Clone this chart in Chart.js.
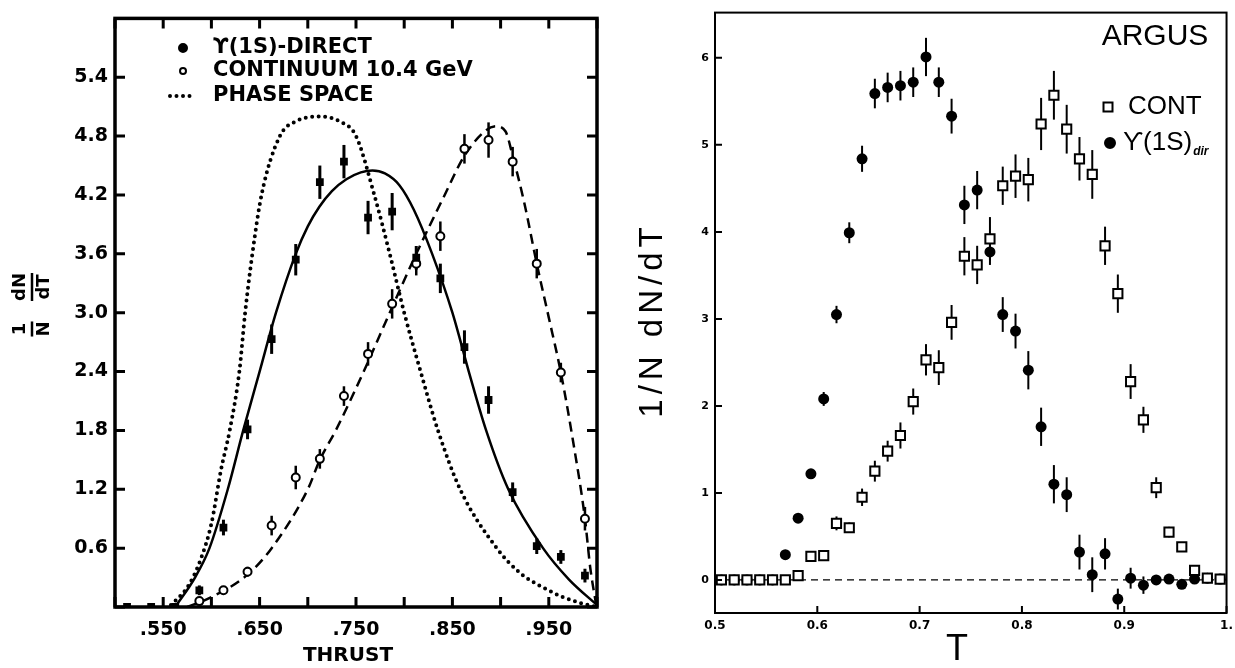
<!DOCTYPE html>
<html>
<head>
<meta charset="utf-8">
<script src="https://cdn.jsdelivr.net/npm/chart.js"></script>
<style>
	html, body { margin: 0; padding: 0; background: #fff; }
	#wrap { position: relative; width: 1235px; height: 668px; overflow: hidden; }
	canvas { position: absolute; top: 0; }
	#thrust { left: 0; }
	#argus { left: 620px; }
</style>
</head>
<body>
<div id="wrap">
	<canvas id="thrust" width="620" height="668"></canvas>
	<canvas id="argus" width="619" height="668"></canvas>
</div>
<script>
// ---- left panel: thrust, Y(1S) direct vs continuum 10.4 GeV ----
var thrustBins = [0.5125, 0.5375, 0.5625, 0.5875, 0.6125, 0.6375, 0.6625, 0.6875, 0.7125, 0.7375,
	0.7625, 0.7875, 0.8125, 0.8375, 0.8625, 0.8875, 0.9125, 0.9375, 0.9625, 0.9875];
var directVals = [0, 0, 0, 0.17, 0.81, 1.81, 2.73, 3.54, 4.33, 4.54, 3.97, 4.03, 3.56, 3.35, 2.65, 2.11, 1.17, 0.62, 0.51, 0.32];
var directErr = [0, 0, 0, 0.05, 0.08, 0.10, 0.15, 0.16, 0.17, 0.17, 0.17, 0.19, 0.12, 0.15, 0.17, 0.14, 0.10, 0.08, 0.07, 0.07];
var contVals = [null, null, null, 0.06, 0.17, 0.36, 0.83, 1.32, 1.51, 2.15, 2.58, 3.09, 3.50, 3.78, 4.67, 4.76, 4.54, 3.50, 2.39, 0.90];
var contErr = [0, 0, 0, 0.03, 0.04, 0.05, 0.10, 0.12, 0.10, 0.10, 0.12, 0.15, 0.12, 0.15, 0.15, 0.18, 0.15, 0.15, 0.10, 0.12];

// curves
var phaseT = [0.558, 0.575, 0.5875, 0.600, 0.610, 0.619, 0.629, 0.635, 0.6425, 0.652, 0.671, 0.6875, 0.7125,
	0.733, 0.750, 0.769, 0.785, 0.800, 0.817, 0.835, 0.858, 0.896, 0.921, 0.942, 0.9625, 0.983, 1.0];
var phaseY = [0.02, 0.20, 0.45, 0.85, 1.40, 1.80, 2.40, 3.00, 3.60, 4.20, 4.80, 4.95, 5.00,
	4.95, 4.80, 4.20, 3.60, 3.00, 2.40, 1.80, 1.20, 0.60, 0.34, 0.21, 0.11, 0.04, 0.0];
var fitDirT = [0.5625, 0.583, 0.598, 0.617, 0.633, 0.650, 0.667, 0.6875, 0.700, 0.712, 0.725, 0.740, 0.755, 0.767,
	0.780, 0.795, 0.810, 0.829, 0.850, 0.867, 0.885, 0.908, 0.944, 0.971, 1.0];
var fitDirY = [0.0, 0.30, 0.60, 1.20, 1.80, 2.40, 3.00, 3.60, 3.88, 4.08, 4.24, 4.36, 4.43, 4.45,
	4.42, 4.30, 4.05, 3.60, 3.00, 2.40, 1.80, 1.20, 0.60, 0.28, 0.02];
var fitContT = [0.575, 0.600, 0.6375, 0.6625, 0.700, 0.7125, 0.729, 0.758, 0.785, 0.8125, 0.842, 0.8625,
	0.885, 0.895, 0.905, 0.9125, 0.925, 0.9375, 0.950, 0.9625, 0.975, 0.9875, 0.993, 0.999];
var fitContY = [0.0, 0.10, 0.33, 0.60, 1.20, 1.50, 1.80, 2.40, 3.00, 3.60, 4.20, 4.60,
	4.86, 4.90, 4.85, 4.60, 4.10, 3.50, 2.95, 2.39, 1.70, 0.90, 0.40, 0.03];

// ---- right panel: ARGUS ----
var argusT = [0.50625, 0.51875, 0.53125, 0.54375, 0.55625, 0.56875, 0.58125, 0.59375, 0.60625, 0.61875,
	0.63125, 0.64375, 0.65625, 0.66875, 0.68125, 0.69375, 0.70625, 0.71875, 0.73125, 0.74375,
	0.75625, 0.76875, 0.78125, 0.79375, 0.80625, 0.81875, 0.83125, 0.84375, 0.85625, 0.86875,
	0.88125, 0.89375, 0.90625, 0.91875, 0.93125, 0.94375, 0.95625, 0.96875, 0.98125, 0.99375];
var argusCont = [0, 0, 0, 0, 0, 0.00, 0.05, 0.27, 0.28, 0.65,
	0.60, 0.95, 1.25, 1.48, 1.66, 2.05, 2.53, 2.44, 2.96, 3.72,
	3.62, 3.92, 4.53, 4.64, 4.60, 5.24, 5.57, 5.18, 4.84, 4.66,
	3.84, 3.29, 2.28, 1.84, 1.06, 0.55, 0.38, 0.11, 0.02, 0.01];
var argusContErr = [0, 0, 0, 0, 0, 0, 0.02, 0.03, 0.03, 0.08,
	0.06, 0.10, 0.12, 0.12, 0.15, 0.15, 0.18, 0.20, 0.20, 0.22,
	0.22, 0.25, 0.22, 0.25, 0.25, 0.30, 0.28, 0.28, 0.25, 0.28,
	0.22, 0.22, 0.20, 0.15, 0.12, 0.06, 0.04, 0.03, 0.02, 0.01];
var argusDir = [0, 0, 0, 0, 0, 0.29, 0.71, 1.22, 2.08, 3.05,
	3.99, 4.84, 5.59, 5.66, 5.68, 5.72, 6.01, 5.72, 5.33, 4.31,
	4.48, 3.77, 3.05, 2.86, 2.41, 1.76, 1.10, 0.98, 0.32, 0.06,
	0.30, -0.22, 0.02, -0.06, 0.00, 0.01, -0.05, 0.01, 0.02, 0.01];
var argusDirErr = [0, 0, 0, 0, 0, 0.02, 0.03, 0.05, 0.08, 0.10,
	0.12, 0.15, 0.17, 0.17, 0.17, 0.17, 0.22, 0.17, 0.20, 0.22,
	0.22, 0.15, 0.20, 0.20, 0.22, 0.22, 0.22, 0.20, 0.20, 0.20,
	0.18, 0.12, 0.12, 0.10, 0.04, 0.04, 0.04, 0.04, 0.03, 0.03];
var argusRange = [0.5, 1.0];

function pts(xs, ys) {
	return xs.map(function (x, i) { return { x: x, y: ys[i] }; });
}

// vertical error bars, drawn under the markers
var errorBars = {
	id: 'errorBars',
	beforeDatasetsDraw: function (chart) {
		var ctx = chart.ctx;
		var xs = chart.scales.x, ys = chart.scales.y;
		chart.data.datasets.forEach(function (ds) {
			if (!ds.errors) return;
			ctx.save();
			ctx.strokeStyle = '#000';
			ctx.lineWidth = ds.errorWidth || 2;
			ds.data.forEach(function (p, i) {
				var e = ds.errors[i];
				if (p.y === null || !e) return;
				var px = xs.getPixelForValue(p.x);
				ctx.beginPath();
				ctx.moveTo(px, ys.getPixelForValue(p.y - e));
				ctx.lineTo(px, ys.getPixelForValue(p.y + e));
				ctx.stroke();
			});
			ctx.restore();
		});
	}
};

// box round the plot and inward tick marks
var frame = {
	id: 'frame',
	afterDatasetsDraw: function (chart, args, opts) {
		var ctx = chart.ctx, a = chart.chartArea;
		var xs = chart.scales.x, ys = chart.scales.y;
		ctx.save();
		ctx.strokeStyle = '#000';
		ctx.lineWidth = opts.lineWidth;
		ctx.strokeRect(a.left, a.top, a.right - a.left, a.bottom - a.top);
		ctx.lineWidth = opts.tickWidth;
		ctx.beginPath();
		xs.ticks.forEach(function (t) {
			var px = xs.getPixelForValue(t.value);
			ctx.moveTo(px, a.bottom);
			ctx.lineTo(px, a.bottom - opts.tickLen);
			if (opts.mirror) {
				ctx.moveTo(px, a.top);
				ctx.lineTo(px, a.top + opts.tickLen);
			}
		});
		ys.ticks.forEach(function (t) {
			var py = ys.getPixelForValue(t.value);
			ctx.moveTo(a.left, py);
			ctx.lineTo(a.left + opts.tickLen, py);
			if (opts.mirror) {
				ctx.moveTo(a.right, py);
				ctx.lineTo(a.right - opts.tickLen, py);
			}
		});
		ctx.stroke();
		ctx.restore();
	}
};

// free text: axis titles, panel name
var texts = {
	id: 'texts',
	afterDraw: function (chart, args, opts) {
		var ctx = chart.ctx;
		(opts.items || []).forEach(function (t) {
			ctx.save();
			ctx.translate(t.x, t.y);
			if (t.rotate) ctx.rotate(t.rotate);
			ctx.font = t.font;
			ctx.fillStyle = '#000';
			ctx.textAlign = t.align || 'center';
			ctx.textBaseline = 'middle';
			if (t.spacing) ctx.letterSpacing = t.spacing;
			ctx.fillText(t.text, 0, 0);
			ctx.restore();
		});
	}
};

// stacked "1/N dN/dT" written sideways
var fractionTitle = {
	id: 'fractionTitle',
	afterDraw: function (chart, args, opts) {
		if (!opts.parts) return;
		var ctx = chart.ctx;
		ctx.save();
		ctx.translate(opts.x, opts.y);
		ctx.rotate(-Math.PI / 2);
		ctx.font = opts.font;
		ctx.fillStyle = '#000';
		ctx.strokeStyle = '#000';
		ctx.textAlign = 'center';
		ctx.textBaseline = 'middle';
		ctx.lineWidth = 2.5;
		opts.parts.forEach(function (p) {
			var w = Math.max(ctx.measureText(p.num).width, ctx.measureText(p.den).width);
			ctx.fillText(p.num, p.at, -opts.gap);
			ctx.fillText(p.den, p.at, opts.gap);
			ctx.beginPath();
			ctx.moveTo(p.at - w / 2, 0);
			ctx.lineTo(p.at + w / 2, 0);
			ctx.stroke();
		});
		ctx.restore();
	}
};

// legend placed inside the plot
var insetLegend = {
	id: 'insetLegend',
	afterDraw: function (chart, args, opts) {
		var ctx = chart.ctx;
		(opts.items || []).forEach(function (it) {
			var ds = chart.data.datasets[it.dataset];
			ctx.save();
			ctx.strokeStyle = '#000';
			if (it.marker === 'line') {
				ctx.lineWidth = ds.borderWidth;
				ctx.lineCap = ds.borderCapStyle || 'butt';
				ctx.setLineDash(ds.borderDash || []);
				ctx.beginPath();
				ctx.moveTo(it.mx - it.size, it.y);
				ctx.lineTo(it.mx + it.size, it.y);
				ctx.stroke();
				ctx.setLineDash([]);
			} else {
				ctx.lineWidth = it.border || 2;
				ctx.fillStyle = it.filled ? '#000' : '#fff';
				ctx.beginPath();
				if (it.marker === 'rect') ctx.rect(it.mx - it.size, it.y - it.size, it.size * 2, it.size * 2);
				else ctx.arc(it.mx, it.y, it.size, 0, Math.PI * 2);
				ctx.fill();
				ctx.stroke();
			}
			ctx.fillStyle = '#000';
			ctx.font = opts.font;
			ctx.textBaseline = 'middle';
			ctx.textAlign = 'left';
			ctx.fillText(ds.label, it.tx, it.y);
			if (it.sub) {
				var w = ctx.measureText(ds.label).width;
				ctx.font = opts.subFont;
				ctx.fillText(it.sub, it.tx + w + 1, it.y + 9);
			}
			ctx.restore();
		});
	}
};

var boldFont = 'DejaVu Sans';

var thrustChart = new Chart($('thrust'), {
	type: 'scatter',
	data: {
		datasets: [
			{
				label: 'ϒ(1S)-DIRECT',
				data: pts(thrustBins, directVals),
				errors: directErr,
				errorWidth: 3,
				pointStyle: 'rect',
				pointRadius: 5.5,
				backgroundColor: '#000',
				borderColor: '#000',
				borderWidth: 0
			},
			{
				label: 'CONTINUUM 10.4 GeV',
				data: pts(thrustBins, contVals),
				errors: contErr,
				errorWidth: 2.5,
				pointStyle: 'circle',
				pointRadius: 4,
				backgroundColor: '#fff',
				borderColor: '#000',
				borderWidth: 2
			},
			{
				label: 'PHASE SPACE',
				data: pts(phaseT, phaseY),
				showLine: true,
				pointRadius: 0,
				borderColor: '#000',
				borderWidth: 4,
				borderDash: [0, 6.5],
				borderCapStyle: 'round',
				cubicInterpolationMode: 'monotone'
			},
			{
				label: 'direct fit',
				data: pts(fitDirT, fitDirY),
				showLine: true,
				pointRadius: 0,
				borderColor: '#000',
				borderWidth: 2.5,
				cubicInterpolationMode: 'monotone'
			},
			{
				label: 'continuum fit',
				data: pts(fitContT, fitContY),
				showLine: true,
				pointRadius: 0,
				borderColor: '#000',
				borderWidth: 2.5,
				borderDash: [10, 6],
				cubicInterpolationMode: 'monotone'
			}
		]
	},
	options: {
		responsive: false,
		animation: false,
		events: [],
		layout: { padding: { top: 11, right: 23, left: 0, bottom: 0 } },
		scales: {
			x: {
				type: 'linear',
				min: 0.5,
				max: 1.0,
				grid: { display: false, drawTicks: false },
				border: { display: false },
				ticks: {
					stepSize: 0.05,
					autoSkip: false,
					maxRotation: 0,
					padding: 12,
					color: '#000',
					font: { family: boldFont, weight: 'bold', size: 19 },
					callback: function (v) {
						var k = Math.round(v * 100);
						return (k % 10 === 5) ? '.' + (k * 10) : '';
					}
				},
				afterFit: function (s) { s.height = 61; }
			},
			y: {
				min: 0,
				max: 6.0,
				grid: { display: false, drawTicks: false },
				border: { display: false },
				ticks: {
					stepSize: 0.6,
					autoSkip: false,
					padding: 7,
					color: '#000',
					font: { family: boldFont, weight: 'bold', size: 19 },
					callback: function (v) { return (v < 0.3 || v > 5.7) ? '' : v.toFixed(1); }
				},
				afterFit: function (s) { s.width = 115; }
			}
		},
		plugins: {
			legend: { display: false },
			tooltip: { enabled: false },
			frame: { lineWidth: 3.5, tickWidth: 3, tickLen: 10, mirror: true },
			texts: {
				items: [
					{ text: 'THRUST', x: 348, y: 656, font: 'bold 20px "DejaVu Sans"' }
				]
			},
			fractionTitle: {
				x: 32, y: 307, gap: 12,
				font: 'bold 18px "DejaVu Sans"',
				parts: [
					{ num: '1', den: 'N', at: -22 },
					{ num: 'dN', den: 'dT', at: 20 }
				]
			},
			insetLegend: {
				font: 'bold 21px "DejaVu Sans"',
				items: [
					{ dataset: 0, marker: 'circle', filled: true, size: 4, mx: 183, tx: 213, y: 48 },
					{ dataset: 1, marker: 'circle', filled: false, size: 3, border: 2, mx: 183, tx: 213, y: 71 },
					{ dataset: 2, marker: 'line', size: 13, mx: 183, tx: 213, y: 96 }
				]
			}
		}
	},
	plugins: [errorBars, frame, texts, fractionTitle, insetLegend]
});

var argusChart = new Chart($('argus'), {
	type: 'scatter',
	data: {
		datasets: [
			{
				label: 'CONT',
				data: pts(argusT, argusCont),
				errors: argusContErr,
				errorWidth: 2,
				pointStyle: 'rect',
				pointRadius: 6.5,
				backgroundColor: '#fff',
				borderColor: '#000',
				borderWidth: 2
			},
			{
				label: 'ϒ(1S)',
				data: pts(argusT, argusDir),
				errors: argusDirErr,
				errorWidth: 2,
				pointStyle: 'circle',
				pointRadius: 5.5,
				backgroundColor: '#000',
				borderColor: '#000',
				borderWidth: 0
			},
			{
				label: 'zero',
				data: pts(argusRange, [0, 0]),
				showLine: true,
				pointRadius: 0,
				borderColor: '#000',
				borderWidth: 1.2,
				borderDash: [7, 5]
			}
		]
	},
	options: {
		responsive: false,
		animation: false,
		events: [],
		layout: { padding: { top: 12, right: 0, left: 0, bottom: 0 } },
		scales: {
			x: {
				type: 'linear',
				min: 0.5,
				max: 1.0,
				grid: { display: false, drawTicks: false },
				border: { display: false },
				ticks: {
					stepSize: 0.1,
					autoSkip: false,
					maxRotation: 0,
					padding: 6,
					color: '#000',
					font: { family: boldFont, weight: 'bold', size: 12 },
					callback: function (v) { return Math.abs(v - 1) < 1e-6 ? '1.' : v.toFixed(1); }
				},
				afterFit: function (s) { s.height = 55; }
			},
			y: {
				min: -0.38,
				max: 6.52,
				grid: { display: false, drawTicks: false },
				border: { display: false },
				ticks: {
					stepSize: 1,
					includeBounds: false,
					padding: 6,
					color: '#000',
					font: { family: boldFont, weight: 'bold', size: 11 },
					callback: function (v) { return Number.isInteger(v) ? String(v) : ''; }
				},
				afterFit: function (s) { s.width = 95; }
			}
		},
		plugins: {
			legend: { display: false },
			tooltip: { enabled: false },
			frame: { lineWidth: 2, tickWidth: 2, tickLen: 7, mirror: false },
			texts: {
				items: [
					{ text: 'ARGUS', x: 535, y: 37, font: '30px "Liberation Sans"' },
					{ text: '1/N dN/dT', x: 33, y: 320, rotate: -Math.PI / 2, spacing: '5px', font: '33px "Liberation Sans"' },
					{ text: 'T', x: 337, y: 650, font: '36px "Liberation Sans"' }
				]
			},
			insetLegend: {
				font: '26px "Liberation Sans Narrow", "Liberation Sans", sans-serif',
				subFont: 'bold italic 12px "Liberation Sans"',
				items: [
					{ dataset: 0, marker: 'rect', filled: false, size: 4.5, border: 2, mx: 488, tx: 508, y: 107 },
					{ dataset: 1, marker: 'circle', filled: true, size: 5, mx: 490, tx: 503, y: 143, sub: 'dir' }
				]
			}
		}
	},
	plugins: [errorBars, frame, texts, insetLegend]
});

function $(id) { return document.getElementById(id); }
</script>
</body>
</html>
